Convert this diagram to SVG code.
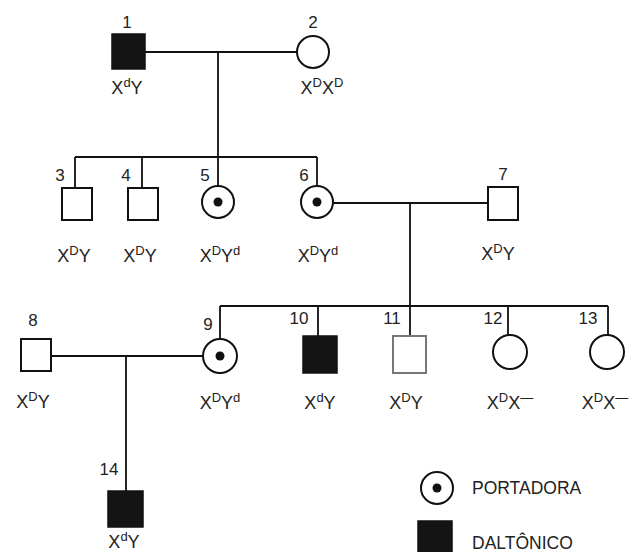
<svg xmlns="http://www.w3.org/2000/svg" width="640" height="552" viewBox="0 0 640 552">
<style>
.ln{stroke:#111;stroke-width:1.8;fill:none}
.m{fill:#fff;stroke:#111;stroke-width:2}
.a{fill:#141414;stroke:#111;stroke-width:1.5}
.g{fill:#fff;stroke:#777;stroke-width:2}
.f{fill:#fff;stroke:#111;stroke-width:2}
.dot{fill:#111}
text{font-family:"Liberation Sans",Arial,sans-serif;fill:#222}
.n{font-size:17px;text-anchor:middle}
.gt{font-size:18px;text-anchor:middle}
.s{font-size:13px}
.lg{font-size:17.5px}
</style>
<rect width="640" height="552" fill="#fff"/>
<g id="connectors">
<path class="ln" d="M145 52H297M218 52V157M75 157H317M75 157V188M142 157V188M218 157V186M317 157V186"/>
<path class="ln" d="M333 203H488M410 203V306M220 306H608M220 306V339M318 306V336M410 306V342M508 306V335M608 306V335"/>
<path class="ln" d="M51 356H203M126 356V491"/>
</g>
<g id="n1"><rect class="a" x="112" y="34" width="33" height="35"/><text class="n" x="127" y="28">1</text><text class="gt" x="127" y="94">X<tspan class="s" dy="-7">d</tspan><tspan dy="7">Y</tspan></text></g>
<g id="n2"><circle class="f" cx="313" cy="52" r="16"/><text class="n" x="313" y="28">2</text><text class="gt" x="322" y="94">X<tspan class="s" dy="-7">D</tspan><tspan dy="7">X</tspan><tspan class="s" dy="-7">D</tspan></text></g>
<g id="n3"><rect class="m" x="62" y="188" width="30" height="32"/><text class="n" x="60" y="181">3</text><text class="gt" x="74" y="262">X<tspan class="s" dy="-7">D</tspan><tspan dy="7">Y</tspan></text></g>
<g id="n4"><rect class="m" x="128" y="188" width="30" height="32"/><text class="n" x="126" y="181">4</text><text class="gt" x="140" y="262">X<tspan class="s" dy="-7">D</tspan><tspan dy="7">Y</tspan></text></g>
<g id="n5"><circle class="f" cx="218" cy="202" r="16"/><circle class="dot" cx="218" cy="202" r="4.5"/><text class="n" x="205" y="181">5</text><text class="gt" x="220" y="262">X<tspan class="s" dy="-7">D</tspan><tspan dy="7">Y</tspan><tspan class="s" dy="-7">d</tspan></text></g>
<g id="n6"><circle class="f" cx="317" cy="202" r="16"/><circle class="dot" cx="317" cy="202" r="4.5"/><text class="n" x="304" y="181">6</text><text class="gt" x="318" y="262">X<tspan class="s" dy="-7">D</tspan><tspan dy="7">Y</tspan><tspan class="s" dy="-7">d</tspan></text></g>
<g id="n7"><rect class="m" x="488" y="187" width="30" height="33"/><text class="n" x="503" y="180">7</text><text class="gt" x="498" y="260">X<tspan class="s" dy="-7">D</tspan><tspan dy="7">Y</tspan></text></g>
<g id="n8"><rect class="m" x="21" y="339" width="30" height="32"/><text class="n" x="33" y="326">8</text><text class="gt" x="33" y="408">X<tspan class="s" dy="-7">D</tspan><tspan dy="7">Y</tspan></text></g>
<g id="n9"><circle class="f" cx="220" cy="356" r="17"/><circle class="dot" cx="220" cy="356" r="4.5"/><text class="n" x="208" y="330">9</text><text class="gt" x="220" y="409">X<tspan class="s" dy="-7">D</tspan><tspan dy="7">Y</tspan><tspan class="s" dy="-7">d</tspan></text></g>
<g id="n10"><rect class="a" x="303" y="336" width="34" height="37"/><text class="n" x="299" y="324">10</text><text class="gt" x="320" y="409">X<tspan class="s" dy="-7">d</tspan><tspan dy="7">Y</tspan></text></g>
<g id="n11"><rect class="g" x="393" y="336" width="33" height="37"/><text class="n" x="392" y="324">11</text><text class="gt" x="406" y="409">X<tspan class="s" dy="-7">D</tspan><tspan dy="7">Y</tspan></text></g>
<g id="n12"><circle class="f" cx="510" cy="352" r="17"/><text class="n" x="493" y="324">12</text><text class="gt" x="510" y="409">X<tspan class="s" dy="-7">D</tspan><tspan dy="7">X</tspan><tspan class="s" dy="-7">—</tspan></text></g>
<g id="n13"><circle class="f" cx="607" cy="352" r="17"/><text class="n" x="588" y="324">13</text><text class="gt" x="605" y="409">X<tspan class="s" dy="-7">D</tspan><tspan dy="7">X</tspan><tspan class="s" dy="-7">—</tspan></text></g>
<g id="n14"><rect class="a" x="108" y="491" width="35" height="36"/><text class="n" x="109" y="475">14</text><text class="gt" x="124" y="548">X<tspan class="s" dy="-7">d</tspan><tspan dy="7">Y</tspan></text></g>
<g id="legend"><circle class="f" cx="437" cy="488" r="16"/><circle class="dot" cx="437" cy="488" r="4.5"/><text class="lg" x="472" y="494">PORTADORA</text><rect class="a" x="418" y="521" width="34" height="34"/><text class="lg" x="472" y="549">DALTÔNICO</text></g>
</svg>
